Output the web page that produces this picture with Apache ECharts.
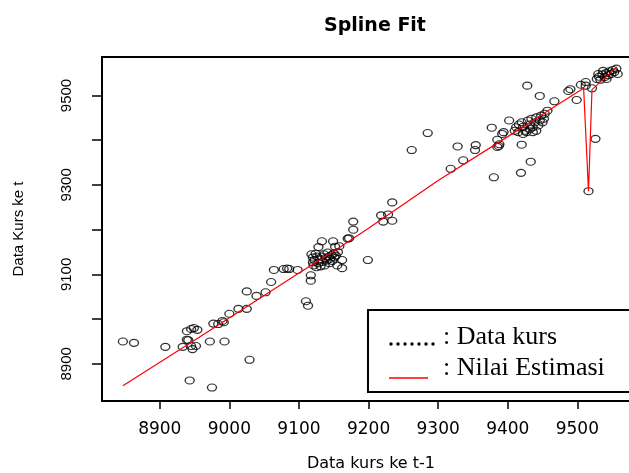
<!DOCTYPE html>
<html>
<head>
<meta charset="utf-8">
<script src="https://cdn.jsdelivr.net/npm/echarts@6/dist/echarts.min.js"></script>
<style>
  html, body { margin: 0; padding: 0; background: #fff; }
  #chart { width: 629px; height: 473px; }
</style>
</head>
<body>
<div id="chart"></div>
<script>
// data kurs: x = kurs ke t-1, y = kurs ke t
const dataX = [
  8847, 8863, 8908, 8933, 8939, 8939, 8945, 8949, 8954, 8941, 8945, 8947, 8952, 8943, 8975,
  8972, 8993, 8977, 8984, 8990, 8992, 9000, 9013, 9025, 9025, 9029, 9039, 9052, 9060, 9064,
  9078, 9083, 9086, 9098, 9110, 9113, 9117, 9117,
  9118, 9120, 9120, 9121, 9122, 9124, 9125, 9126, 9128, 9128, 9130, 9131, 9133, 9133, 9134,
  9136, 9137, 9138, 9140, 9141, 9143, 9144, 9145, 9147, 9148, 9149, 9150, 9151, 9152, 9153,
  9155, 9156, 9158, 9162, 9162, 9170, 9172, 9178, 9178, 9199,
  9218, 9228, 9221, 9234, 9234,
  9262, 9285, 9318, 9328, 9336, 9354, 9353, 9377, 9380, 9385, 9387, 9388, 9392, 9394, 9385,
  9402,
  9412, 9416, 9420, 9422, 9425, 9429, 9432, 9434, 9436, 9439, 9441, 9444, 9446, 9448, 9450,
  9452, 9453, 9427, 9436, 9441, 9415, 9410, 9422, 9432,
  9420, 9419, 9433, 9428, 9446, 9467, 9457,
  9487, 9490, 9499, 9505, 9512, 9512, 9521, 9526, 9516,
  9528, 9531, 9533, 9536, 9539, 9541, 9544, 9546, 9549, 9551, 9553, 9556, 9558, 9537, 9530,
  9542
]
const dataY = [
  8950, 8947, 8938, 8938, 8973, 8954, 8978, 8980, 8976, 8953, 8940, 8933, 8940, 8863, 8847,
  8950, 8950, 8990, 8989, 8996, 8993, 9012, 9023, 9023, 9062, 8909, 9052, 9060, 9083, 9110,
  9112, 9113, 9112, 9110, 9040, 9030, 9086, 9098,
  9145, 9138, 9127, 9120, 9132, 9146, 9116, 9140, 9161, 9125, 9134, 9118, 9174, 9140, 9128,
  9145, 9120, 9136, 9131, 9149, 9140, 9125, 9135, 9143, 9130, 9174, 9147, 9138, 9162, 9142,
  9120, 9150, 9163, 9132, 9114, 9180, 9181, 9200, 9218, 9132,
  9232, 9234, 9218, 9220, 9261,
  9378, 9416, 9336, 9386, 9355, 9389, 9378, 9428, 9317, 9401, 9387, 9391, 9414, 9418, 9385,
  9444,
  9429, 9435, 9440, 9430, 9421, 9444, 9435, 9448, 9429, 9440, 9451, 9433, 9444, 9455, 9440,
  9448, 9459, 9418, 9418, 9421, 9418, 9421, 9414, 9425,
  9390, 9327, 9352, 9522, 9499, 9487, 9466,
  9510, 9514, 9490, 9524, 9530, 9522, 9516, 9403, 9286,
  9537, 9542, 9535, 9547, 9541, 9550, 9545, 9554, 9548, 9557, 9552, 9560, 9548, 9555, 9548,
  9537
]

// nilai estimasi (spline)
const fitX = [8847, 8950, 9050, 9100, 9150, 9200, 9300, 9400, 9450, 9509, 9516, 9521, 9540, 9557]
const fitY = [8851, 8953, 9053, 9103, 9152, 9203, 9310, 9408, 9458, 9516, 9286, 9513, 9540, 9564]

// ticks
const xTicks = [8900, 9000, 9100, 9200, 9300, 9400, 9500]
const yTicks = [8900, 9000, 9100, 9200, 9300, 9400, 9500]
const yLabels = [8900, 9100, 9300, 9500]

const chart = echarts.init(document.getElementById('chart'))

const option = {
  animation: false,
  backgroundColor: '#fff',
  title: {
    text: 'Spline Fit',
    left: 370,
    top: 12,
    textAlign: 'center',
    textStyle: { fontFamily: 'DejaVu Sans', fontWeight: 'bold', fontSize: 19, color: '#000' }
  },
  grid: {
    left: 102,
    top: 57,
    width: 538,
    height: 344,
    outerBoundsMode: 'none',
    containLabel: false,
    show: true,
    borderColor: '#000',
    borderWidth: 2,
    backgroundColor: 'transparent'
  },
  xAxis: {
    type: 'value',
    min: 8817,
    max: 9590,
    axisLine: { show: false },
    splitLine: { show: false },
    axisTick: { show: true, customValues: xTicks, length: 8, lineStyle: { color: '#000', width: 1.5 } },
    axisLabel: {
      customValues: xTicks,
      formatter: v => String(v),
      fontFamily: 'DejaVu Sans',
      fontSize: 17,
      color: '#000',
      margin: 20
    },
    name: 'Data kurs ke t-1',
    nameLocation: 'middle',
    nameGap: 55,
    nameTextStyle: { fontFamily: 'DejaVu Sans', fontSize: 16, color: '#000' }
  },
  yAxis: {
    type: 'value',
    min: 8817,
    max: 9586,
    axisLine: { show: false },
    splitLine: { show: false },
    axisTick: { show: true, customValues: yTicks, length: 10, lineStyle: { color: '#000', width: 1.5 } },
    axisLabel: {
      customValues: yLabels,
      formatter: v => String(v),
      rotate: 90,
      fontFamily: 'Liberation Sans',
      fontSize: 15,
      color: '#000',
      margin: 28
    },
    name: 'Data Kurs ke t',
    nameLocation: 'middle',
    nameGap: 76,
    nameTextStyle: { fontFamily: 'Liberation Sans', fontSize: 15, color: '#000' }
  },
  graphic: [
    // legenda
    {
      type: 'rect',
      shape: { x: 368, y: 310, width: 300, height: 82 },
      style: { fill: 'none', stroke: '#000', lineWidth: 2 }
    },
    {
      type: 'group',
      children: [0, 1, 2, 3, 4, 5, 6].map(i => ({
        type: 'circle',
        shape: { cx: 391 + i * 7, cy: 344, r: 1.7 },
        style: { fill: '#000' }
      }))
    },
    {
      type: 'text',
      x: 443,
      y: 337,
      style: { text: ': Data kurs', fontFamily: 'Liberation Serif', fontSize: 26, fill: '#000', verticalAlign: 'middle' }
    },
    {
      type: 'line',
      shape: { x1: 389, y1: 378, x2: 428, y2: 378 },
      style: { stroke: '#ff0000', lineWidth: 1.5 }
    },
    {
      type: 'text',
      x: 443,
      y: 368,
      style: { text: ': Nilai Estimasi', fontFamily: 'Liberation Serif', fontSize: 26, fill: '#000', verticalAlign: 'middle' }
    }
  ],
  series: [
    {
      name: 'Data kurs',
      type: 'scatter',
      data: dataX.map((x, i) => [x, dataY[i]]),
      symbol: 'circle',
      symbolSize: [9, 7],
      itemStyle: { color: 'rgba(0,0,0,0)', borderColor: '#000', borderWidth: 1.2 }
    },
    {
      name: 'Nilai Estimasi',
      type: 'line',
      data: fitX.map((x, i) => [x, fitY[i]]),
      showSymbol: false,
      clip: true,
      lineStyle: { color: '#ff0000', width: 1.2 }
    }
  ]
}

chart.setOption(option)
</script>
</body>
</html>
